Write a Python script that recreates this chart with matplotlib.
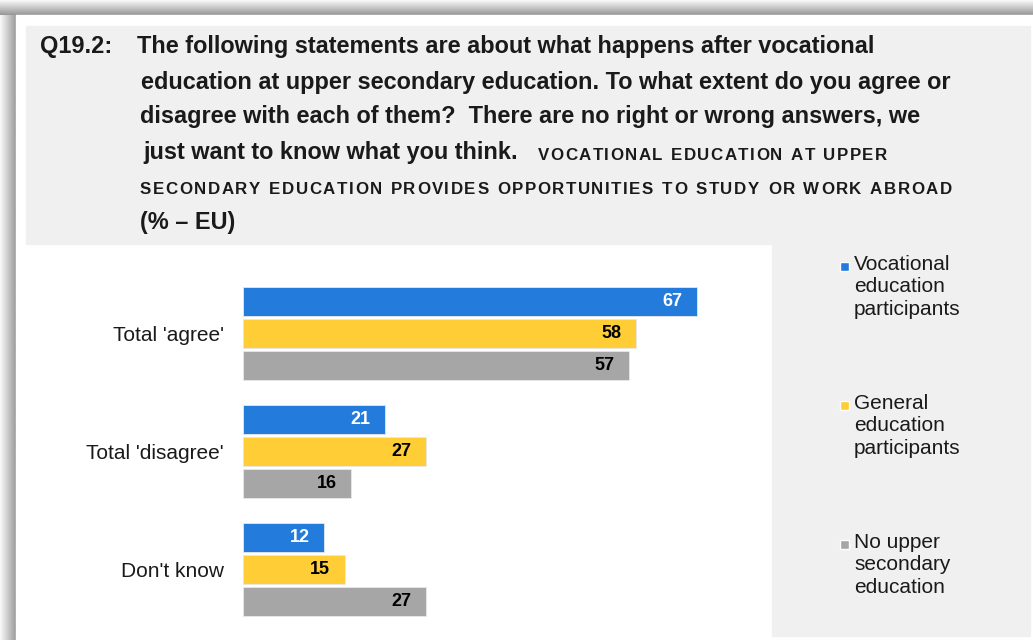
import numpy as np
import matplotlib
matplotlib.use("Agg")
import matplotlib.pyplot as plt
from matplotlib.patches import Rectangle

plt.rcParams["font.family"] = ["Liberation Sans", "DejaVu Sans"]

# --- Datos ---
categorias = ["Total 'agree'", "Total 'disagree'", "Don't know"]
series = ["Vocational\neducation\nparticipants",
          "General\neducation\nparticipants",
          "No upper\nsecondary\neducation"]
vocacional = [67, 21, 12]
general = [58, 27, 15]
sin_secundaria = [57, 16, 27]

COLORES = ["#237cdc", "#ffcd35", "#a6a6a6"]
COLOR_TEXTO = ["white", "black", "black"]

W, H = 1033, 640
fig = plt.figure(figsize=(W / 100, H / 100), dpi=100)
fig.patch.set_facecolor("white")
renderer = fig.canvas.get_renderer()

# --- Fondo en coordenadas de píxel: sombras, caja del título y de la leyenda ---
bg = fig.add_axes([0, 0, 1, 1])
bg.axis("off")
grad_top = np.linspace(0.97, 0.60, 15).reshape(-1, 1)
bg.imshow(np.repeat(grad_top, 2, axis=1), cmap="gray", vmin=0, vmax=1,
          extent=[0, W, 15, 0], aspect="auto", interpolation="bilinear")
grad_left = np.linspace(0.97, 0.62, 16).reshape(1, -1)
bg.imshow(np.repeat(grad_left, 2, axis=0), cmap="gray", vmin=0, vmax=1,
          extent=[0, 16, H, 15], aspect="auto", interpolation="bilinear")
bg.add_patch(Rectangle((16, 15), W - 16, H - 15, color="white"))
bg.add_patch(Rectangle((26, 26), 1004, 218, color="#f0f0f0"))
bg.add_patch(Rectangle((772, 244), 258, 392, color="#f0f0f0"))
bg.set_xlim(0, W)
bg.set_ylim(H, 0)


def texto_espaciado(x, y, s, ancho, **kw):
    """Escribe s letra a letra para que ocupe 'ancho' píxeles (versalitas espaciadas)."""
    anchos = []
    for c in s:
        t = bg.text(0, 0, c if c != " " else "n", **kw)
        anchos.append(t.get_window_extent(renderer).width * (0.55 if c == " " else 1))
        t.remove()
    extra = (ancho - sum(anchos)) / (len(s) - 1)
    for c, w in zip(s, anchos):
        bg.text(x, y, c, **kw)
        x += w + extra


# --- Título ---
tit = dict(fontsize=16.9, fontweight="bold", color="#1a1a1a", va="center")
bg.text(40, 47, "Q19.2:", **tit)
bg.text(137, 47, "The following statements are about what happens after vocational", **tit)
bg.text(141, 82, "education at upper secondary education. To what extent do you agree or", **tit)
bg.text(140, 117, "disagree with each of them?  There are no right or wrong answers, we", **tit)
bg.text(143, 153, "just want to know what you think.", **tit)
chico = dict(fontsize=12.2, fontweight="bold", color="#1a1a1a", va="center", ha="left")
texto_espaciado(538, 155, "VOCATIONAL EDUCATION AT UPPER", 349, **chico)
texto_espaciado(140, 189, "SECONDARY EDUCATION PROVIDES OPPORTUNITIES TO STUDY OR WORK ABROAD",
                812, **chico)
bg.text(140, 222, "(% – EU)", **tit)

# --- Leyenda ---
for i, (nombre, y0) in enumerate(zip(series, [266, 405, 544])):
    bg.add_patch(Rectangle((839.5, y0 - 4.5), 9, 9, facecolor=COLORES[i],
                           edgecolor="white", linewidth=1.0))
    bg.text(854, y0 - 11, nombre, fontsize=15, color="#1a1a1a", va="top",
            linespacing=1.22)

# --- Gráfico de barras ---
x0, ppu = 243, 6.78          # píxel de inicio y píxeles por punto %
xmax = 75
ax_top, ax_bot = 260, 640
ax = fig.add_axes([x0 / W, 1 - ax_bot / H, xmax * ppu / W, (ax_bot - ax_top) / H])
ax.patch.set_alpha(0)
paso = 118.0
ax.set_xlim(0, xmax)
ax.set_ylim((ax_bot - 333.5) / paso, (ax_top - 333.5) / paso)

alto = 29 / paso
sep = 32 / paso
y = np.arange(len(categorias))
for i, vals in enumerate([vocacional, general, sin_secundaria]):
    pos = y + (i - 1) * sep
    ax.barh(pos, vals, height=alto, color=COLORES[i], edgecolor="#e8e8e8", linewidth=0.6)
    for p, v in zip(pos, vals):
        ax.text(v - 2.2, p, f"{v}", ha="right", va="center", fontsize=13,
                fontweight="bold", color=COLOR_TEXTO[i])

ax.set_yticks(y)
ax.set_yticklabels(categorias, fontsize=15, color="#1a1a1a")
ax.tick_params(axis="y", length=0, pad=14)
ax.set_xticks([])
for s in ax.spines.values():
    s.set_visible(False)

fig.savefig("out.png", dpi=100)
